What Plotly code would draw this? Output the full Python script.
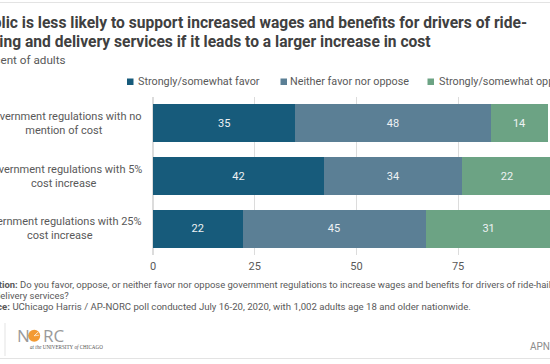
import plotly.graph_objects as go

# ---- data ----
categories = [
    "Government regulations with no<br>mention of cost",
    "Government regulations with 5%<br>cost increase",
    "Government regulations with 25%<br>cost increase",
]
series_names = ["Strongly/somewhat favor", "Neither favor nor oppose", "Strongly/somewhat oppose"]
favor = [35, 42, 22]
neither = [48, 34, 45]
oppose = [14, 22, 31]
x_ticks = [0, 25, 50, 75, 100]

title_lines = [
    "Public is less likely to support increased wages and benefits for drivers of ride-",
    "hailing and delivery services if it leads to a larger increase in cost",
]
subtitle = "Percent of adults"
question_lines = [
    "<b>Question:</b> Do you favor, oppose, or neither favor nor oppose government regulations to increase wages and benefits for drivers of ride-hailing",
    "and delivery services?",
]
source_line = "<b>Source:</b> UChicago Harris / AP-NORC poll conducted July 16-20, 2020, with 1,002 adults age 18 and older nationwide."

# ---- style ----
colors = ["#175b7b", "#5b7f95", "#6ca384"]
W, H = 550, 364
L, R, T, B = 153, 0, 97, 109
PW, PH = W - L - R, H - T - B
FONT = "Roboto"
GREY = "#595959"
DARK = "#404040"


def px(x):
    return (x - L) / PW


def py(y):
    return (H - B - y) / PH


fig = go.Figure()
for name, vals, col in zip(series_names, [favor, neither, oppose], colors):
    fig.add_trace(go.Bar(
        y=categories, x=vals, name=name, orientation="h",
        marker=dict(color=col, line=dict(width=0)),
        text=vals, textposition="inside", insidetextanchor="middle",
        textfont=dict(color="#eef2f4", size=11, family=FONT),
        constraintext="none", cliponaxis=True,
    ))

ann = []
# title
for t, y in zip(title_lines, [22.7, 41.7]):
    ann.append(dict(text="<b>" + t + "</b>", x=px(-28), y=py(y), xref="paper", yref="paper",
                    xanchor="left", yanchor="middle", showarrow=False,
                    font=dict(family=FONT, size=15.6, color=DARK)))
ann.append(dict(text=subtitle, x=px(-25), y=py(60), xref="paper", yref="paper",
                xanchor="left", yanchor="middle", showarrow=False,
                font=dict(family=FONT, size=11.7, color=GREY)))

# legend
leg_sq = [127, 280.5, 427.5]
leg_tx = [136, 288, 437]
shapes = []
for name, col, sx, tx in zip(series_names, colors, leg_sq, leg_tx):
    shapes.append(dict(type="rect", xref="paper", yref="paper", x0=px(sx), x1=px(sx + 6.5),
                       y0=py(85), y1=py(78.5), fillcolor=col, line=dict(width=0)))
    ann.append(dict(text=name, x=px(tx), y=py(81.7), xref="paper", yref="paper",
                    xanchor="left", yanchor="middle", showarrow=False,
                    font=dict(family=FONT, size=10.8, color=GREY)))

# category labels
for c in categories:
    ann.append(dict(text=c, x=px(143.5), y=c, xref="paper", yref="y",
                    xanchor="right", yanchor="middle", align="center", showarrow=False,
                    font=dict(family=FONT, size=11, color=GREY)))

# footer
for t, y in zip(question_lines, [284, 295]):
    ann.append(dict(text=t, x=px(-25), y=py(y), xref="paper", yref="paper",
                    xanchor="left", yanchor="middle", showarrow=False,
                    font=dict(family=FONT, size=9.45, color=GREY)))
ann.append(dict(text=source_line, x=px(-25), y=py(306.7), xref="paper", yref="paper",
                xanchor="left", yanchor="middle", showarrow=False,
                font=dict(family=FONT, size=9.6, color=GREY)))

# logo (NORC with orange "O" disc)
ann.append(dict(text="N", x=px(14.5), y=py(335.5),
                xref="paper", yref="paper", xanchor="left", yanchor="middle", showarrow=False,
                font=dict(family="Open Sans", size=17, color="#9a9a9a")))
ann.append(dict(text="RC", x=px(41), y=py(335.5),
                xref="paper", yref="paper", xanchor="left", yanchor="middle", showarrow=False,
                font=dict(family="Open Sans", size=17, color="#9a9a9a")))
shapes.append(dict(type="circle", xref="paper", yref="paper", x0=px(28.2), x1=px(40.2),
                   y0=py(341.8), y1=py(329.8), fillcolor="#f39a33", line=dict(width=0)))
shapes.append(dict(type="line", xref="paper", yref="paper", x0=px(34.2), x1=px(38.5),
                   y0=py(335.8), y1=py(331.8), line=dict(color="white", width=0.8)))
shapes.append(dict(type="line", xref="paper", yref="paper", x0=px(34.2), x1=px(39.2),
                   y0=py(335.8), y1=py(335.2), line=dict(color="white", width=0.6)))
ann.append(dict(text="<i>at the</i> UNIVERSITY <i>of</i> CHICAGO", x=px(27.5), y=py(347.2),
                xref="paper", yref="paper", xanchor="left", yanchor="middle", showarrow=False,
                font=dict(family="Liberation Serif", size=5.1, color="#555555")))
ann.append(dict(text="APNORC.org", x=px(528), y=py(346.7), xref="paper", yref="paper",
                xanchor="left", yanchor="middle", showarrow=False,
                font=dict(family=FONT, size=10, color="#8c8c8c")))

shapes += [
    dict(type="line", xref="paper", yref="paper", x0=px(0), x1=px(W), y0=py(2.5), y1=py(2.5),
         line=dict(color="#e3e3e3", width=1)),
    dict(type="line", xref="paper", yref="paper", x0=px(0), x1=px(W), y0=py(358.5), y1=py(358.5),
         line=dict(color="#e3e3e3", width=1)),
    dict(type="line", xref="paper", yref="paper", x0=px(5), x1=px(5), y0=py(323), y1=py(356),
         line=dict(color="#e3e3e3", width=1)),
]

fig.update_layout(
    width=W, height=H, margin=dict(l=L, r=R, t=T, b=B, pad=0),
    barmode="stack", bargap=0.28, showlegend=False,
    paper_bgcolor="white", plot_bgcolor="white",
    font=dict(family=FONT, color=GREY),
    xaxis=dict(range=[0, (W - L) / 4.068], tickvals=x_ticks, showgrid=True,
               gridcolor="#dcdcdc", gridwidth=1, zeroline=True, zerolinecolor="#dcdcdc",
               zerolinewidth=2, ticks="outside", ticklen=1, tickcolor="rgba(0,0,0,0)",
               tickfont=dict(family=FONT, size=11, color=GREY), showline=False),
    yaxis=dict(autorange="reversed", showticklabels=False, showgrid=False, zeroline=False),
    annotations=ann, shapes=shapes,
)

fig.write_html("out.html", config={"displayModeBar": False},
               post_script="document.body.style.margin='0';")
